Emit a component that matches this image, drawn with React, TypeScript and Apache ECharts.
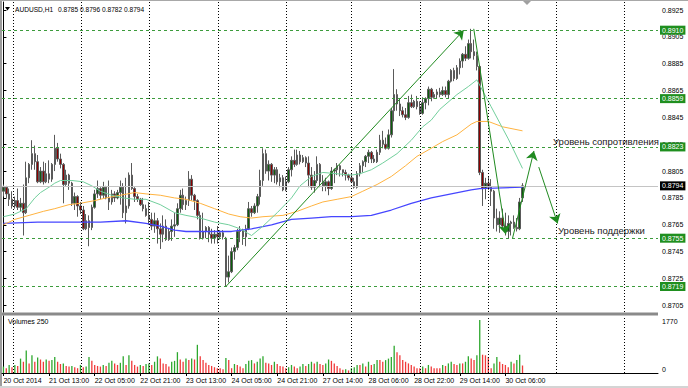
import React, { useEffect, useRef } from "react";
import * as echarts from "echarts";

const symbolTitle = "AUDUSD,H1";
const lastQuote = "0.8785 0.8796 0.8782 0.8794";
const volumesTitle = "Volumes 250";
const tickLabels = [
  "20 Oct 2014", "21 Oct 13:00", "22 Oct 05:00", "22 Oct 21:00", "23 Oct 13:00", "24 Oct 05:00",
  "24 Oct 21:00", "27 Oct 14:00", "28 Oct 06:00", "28 Oct 22:00", "29 Oct 14:00", "30 Oct 06:00",
];
const LABEL_STEP = 16;
const SLOTS = 230;

// hourly bars in pips (x 0.0001): [open, close, low, high]
const ohlcPips: number[][] = [
  [8790,8793,8786,8795],[8793,8788,8785,8794],[8788,8784,8779,8792],[8784,8779,8777,8790],[8779,8783,8777,8786],
  [8783,8778,8776,8792],[8778,8781,8775,8785],[8781,8774,8757,8795],[8774,8800,8773,8812],[8800,8810,8796,8811],
  [8810,8818,8806,8828],[8818,8812,8806,8824],[8812,8797,8796,8817],[8797,8805,8796,8808],[8805,8797,8795,8812],
  [8797,8803,8796,8811],[8803,8799,8796,8813],[8799,8810,8797,8811],[8810,8822,8805,8832],[8822,8814,8812,8826],
  [8814,8810,8807,8818],[8810,8795,8781,8811],[8795,8802,8794,8806],[8802,8796,8791,8803],[8796,8781,8779,8797],
  [8781,8786,8776,8789],[8786,8779,8771,8787],[8779,8776,8773,8782],[8776,8762,8761,8779],[8762,8768,8761,8773],
  [8768,8763,8749,8772],[8763,8778,8761,8780],[8778,8788,8777,8791],[8788,8792,8785,8798],[8792,8787,8784,8793],
  [8787,8793,8785,8797],[8793,8785,8784,8794],[8785,8782,8776,8798],[8782,8788,8780,8791],[8788,8785,8782,8790],
  [8785,8789,8784,8791],[8789,8793,8780,8798],[8793,8774,8770,8796],[8774,8779,8766,8800],[8779,8802,8777,8804],
  [8802,8792,8791,8811],[8792,8786,8782,8793],[8786,8784,8782,8788],[8784,8780,8779,8785],[8780,8777,8775,8785],
  [8777,8772,8771,8780],[8772,8769,8765,8782],[8769,8764,8761,8774],[8764,8768,8759,8774],[8768,8762,8751,8770],
  [8762,8758,8747,8766],[8758,8764,8752,8772],[8764,8754,8753,8769],[8754,8760,8753,8762],[8760,8764,8753,8769],
  [8764,8765,8756,8774],[8765,8777,8764,8781],[8777,8787,8774,8791],[8787,8780,8776,8792],[8780,8783,8776,8786],
  [8783,8799,8779,8805],[8799,8787,8783,8802],[8787,8783,8776,8788],[8783,8772,8769,8784],[8772,8755,8754,8775],
  [8755,8760,8754,8774],[8760,8763,8755,8764],[8763,8758,8752,8764],[8758,8755,8751,8762],[8755,8758,8751,8761],
  [8758,8756,8751,8764],[8756,8759,8754,8761],[8756,8759,8754,8761],[8755,8726,8719,8756],[8726,8730,8722,8742],
  [8730,8745,8729,8748],[8745,8748,8739,8750],[8748,8760,8746,8762],[8760,8761,8752,8764],[8761,8756,8750,8762],
  [8756,8762,8749,8765],[8762,8777,8761,8782],[8777,8774,8771,8779],[8774,8779,8773,8781],[8779,8786,8774,8788],
  [8786,8798,8780,8806],[8798,8818,8794,8822],[8818,8805,8803,8821],[8805,8810,8798,8813],[8810,8802,8797,8811],
  [8802,8806,8796,8808],[8806,8797,8795,8808],[8797,8800,8793,8803],[8800,8791,8790,8802],[8791,8797,8790,8801],
  [8797,8806,8796,8808],[8806,8813,8801,8816],[8813,8810,8808,8821],[8810,8817,8809,8821],[8817,8812,8810,8820],
  [8812,8815,8811,8817],[8815,8811,8808,8816],[8811,8802,8793,8816],[8802,8793,8791,8808],[8793,8798,8789,8805],
  [8798,8810,8796,8816],[8810,8797,8793,8811],[8797,8794,8790,8802],[8794,8797,8790,8800],[8797,8792,8787,8798],
  [8792,8805,8791,8808],[8805,8806,8796,8807],[8806,8809,8802,8811],[8809,8806,8801,8810],[8806,8804,8801,8806],
  [8804,8802,8798,8806],[8802,8800,8798,8803],[8800,8797,8796,8803],[8797,8793,8792,8800],[8793,8803,8792,8805],
  [8803,8809,8801,8811],[8809,8812,8804,8813],[8812,8816,8808,8817],[8816,8819,8811,8821],[8819,8814,8811,8820],
  [8814,8812,8811,8817],[8812,8819,8811,8821],[8819,8828,8817,8832],[8828,8825,8822,8835],[8825,8822,8821,8830],
  [8822,8832,8821,8836],[8832,8850,8830,8852],[8850,8862,8842,8881],[8862,8855,8850,8866],[8855,8850,8846,8858],
  [8850,8847,8845,8853],[8847,8845,8843,8852],[8845,8856,8844,8861],[8856,8853,8852,8862],[8853,8857,8852,8858],
  [8857,8853,8851,8861],[8853,8848,8847,8857],[8848,8856,8847,8860],[8856,8859,8851,8860],[8859,8866,8854,8868],
  [8866,8860,8857,8867],[8860,8862,8859,8864],[8862,8864,8859,8866],[8864,8862,8860,8867],[8862,8865,8861,8868],
  [8865,8862,8860,8868],[8862,8872,8859,8873],[8872,8880,8871,8881],[8880,8874,8872,8882],[8874,8882,8873,8884],
  [8882,8887,8877,8889],[8887,8892,8882,8893],[8892,8889,8887,8898],[8889,8900,8888,8903],[8900,8894,8889,8911],
  [8894,8891,8888,8903],[8891,8883,8880,8894],[8883,8804,8802,8884],[8804,8792,8779,8806],[8792,8796,8784,8800],
  [8796,8793,8791,8801],[8793,8790,8779,8799],[8790,8770,8762,8791],[8770,8765,8760,8777],[8765,8770,8759,8775],
  [8770,8764,8762,8777],[8764,8760,8757,8774],[8760,8766,8755,8772],[8766,8767,8757,8768],[8767,8763,8762,8772],
  [8763,8762,8760,8770],[8762,8782,8761,8785],[8785,8794,8782,8796],
];

const volumes: number[] = [
  214,160,268,193,268,235,480,375,750,320,590,375,515,450,375,450,405,430,535,375,
  300,320,235,214,235,193,160,268,193,214,535,405,268,235,214,268,235,340,405,320,
  268,340,555,268,590,405,268,214,268,235,300,320,268,375,555,480,320,300,214,375,
  405,695,450,375,480,430,480,450,940,555,430,340,268,235,193,160,160,128,500,430,
  160,300,268,214,160,300,405,430,320,375,480,555,340,320,268,375,300,235,214,160,
  193,268,214,160,214,300,235,300,375,320,375,300,268,320,450,405,320,235,160,107,
  128,86,160,193,268,268,320,214,375,268,300,430,430,375,430,480,535,910,695,590,
  430,375,320,268,214,160,160,214,160,268,214,160,160,160,268,235,320,375,300,268,
  320,320,375,555,480,430,590,1770,610,590,535,160,320,535,375,300,268,193,375,320,
  430,610,250,
];

// moving averages: [bar, pips]
const maFastPips: number[][] = [
  [0,8771],[4,8773],[8,8777],[11,8785],[13,8789],[16,8793],[18,8796],[20,8798],[24,8798],[28,8797],
  [31,8794],[34,8790],[38,8787],[42,8785],[46,8784],[50,8784],[55,8780],[60,8774],[64,8772],[69,8770],
  [74,8767],[79,8765],[83,8762],[87,8757],[91,8764],[96,8774],[101,8785],[104,8794],[108,8801],[112,8804],
  [117,8803],[122,8802],[125,8803],[129,8806],[133,8811],[138,8818],[143,8828],[147,8838],[150,8843],[153,8851],
  [159,8862],[163,8868],[166,8873],[171,8853],[177,8829],[182,8807],
];
const maMidPips: number[][] = [
  [0,8765],[4,8769],[9,8772],[14,8775],[18,8777],[23,8780],[27,8781],[32,8783],[36,8785],[41,8787],
  [46,8789],[50,8788],[55,8787],[60,8785],[64,8784],[69,8781],[74,8777],[79,8773],[83,8771],[87,8770],
  [91,8771],[98,8772],[103,8775],[108,8779],[112,8782],[117,8784],[122,8786],[126,8790],[131,8795],[136,8801],
  [141,8809],[145,8816],[150,8822],[154,8827],[159,8832],[164,8840],[166,8842],[170,8842],[175,8838],[182,8835],
];
const maSlowPips: number[][] = [
  [0,8766],[12,8767],[23,8767],[34,8767],[43,8768],[50,8766],[55,8764],[60,8761],[64,8760],[74,8760],
  [80,8760],[87,8762],[94,8765],[101,8769],[108,8770],[115,8771],[122,8771],[129,8772],[136,8776],[143,8781],
  [150,8785],[157,8788],[164,8791],[167,8792],[182,8793],
];

const levels = [0.891, 0.8859, 0.8823, 0.8755, 0.8719];
const lastPrice = 0.8794;
const priceTicks = [0.8705, 0.8725, 0.8745, 0.8765, 0.8785, 0.8805, 0.8825, 0.8845, 0.8865, 0.8885, 0.8905, 0.8925];
const volumeTicks = [0, 1770];
const gridBars = [3.3, 27.4, 51.2, 75.4, 99.2, 122.1, 146, 170.1, 193.9, 217.7];

// drawn trend arrows: [[bar, price], [bar, price]]
const arrows: number[][][] = [
  [[78, 0.8719], [161.4, 0.891]],
  [[164.9, 0.8911], [176.1, 0.8758]],
  [[178.5, 0.8755], [186, 0.882]],
  [[187.7, 0.8808], [194.3, 0.8766]],
];
const resistanceText = "Уровень сопротивления";
const supportText = "Уровень поддержки";

const FONT = "Liberation Sans";
const GREEN_LVL = "#3c9b3c";
const ARROW = "#1f8a1f";

export default function App() {
  const ref = useRef<HTMLDivElement>(null);
  useEffect(() => {
    const el = ref.current;
    if (!el) return;
    const chart = echarts.init(el, null, { renderer: "svg" });
    const cats = Array.from({ length: SLOTS }, (_, i) => String(i));
    const candle = ohlcPips.map((r) => r.map((v) => v / 10000));
    const volData = volumes.map((v, i) => ({
      value: v,
      itemStyle: { color: i > 0 && v <= volumes[i - 1] ? "#f03a3a" : "#2ea82e" },
    }));
    const toLine = (arr: number[][]) => arr.map(([i, p]) => [i, p / 10000]);
    const isLabel = (i: number) => i % LABEL_STEP === 0 && i / LABEL_STEP < tickLabels.length;
    const vGrid = {
      silent: true,
      symbol: "none",
      label: { show: false },
      lineStyle: { color: "#000", type: [1, 2], width: 1 },
      data: gridBars.map((b) => ({ xAxis: b })),
    };
    const lvlLabel = (bg: string) => ({
      show: true,
      position: "end",
      distance: 2,
      formatter: (p: any) => Number(p.value).toFixed(4),
      backgroundColor: bg,
      color: "#fff",
      fontSize: 7,
      fontFamily: FONT,
      padding: [1, 2, 1, 2],
    });
    const option: any = {
      animation: false,
      backgroundColor: "#fff",
      grid: [
        { left: 2, right: 30, top: 2, height: 310 },
        { left: 2, right: 30, top: 316, height: 57 },
      ],
      xAxis: [
        {
          type: "category", gridIndex: 0, data: cats, boundaryGap: true,
          axisLine: { show: false }, axisTick: { show: false }, axisLabel: { show: false }, splitLine: { show: false },
        },
        {
          type: "category", gridIndex: 1, data: cats, boundaryGap: true,
          axisLine: { show: true, lineStyle: { color: "#000", width: 1 } },
          axisTick: { show: true, interval: (i: number) => isLabel(i), alignWithLabel: true, length: 3, lineStyle: { color: "#000" } },
          axisLabel: {
            show: true, interval: (i: number) => isLabel(i),
            formatter: (v: string) => { const i = Number(v); return isLabel(i) ? tickLabels[i / LABEL_STEP] : ""; },
            align: "left", fontSize: 7, fontFamily: FONT, color: "#000", margin: 4,
          },
          splitLine: { show: false },
        },
        { type: "value", gridIndex: 0, min: -0.5, max: SLOTS - 0.5, show: false },
        { type: "value", gridIndex: 1, min: -0.5, max: SLOTS - 0.5, show: false },
      ],
      yAxis: [
        {
          type: "value", gridIndex: 0, position: "right", min: 0.87, max: 0.8931,
          axisLine: { show: true, lineStyle: { color: "#000" } },
          axisTick: { show: true, customValues: priceTicks, length: 3, lineStyle: { color: "#000" } },
          axisLabel: { customValues: priceTicks, formatter: (v: number) => v.toFixed(4), fontSize: 7, fontFamily: FONT, color: "#000", margin: 4 },
          splitLine: { show: false },
        },
        {
          type: "value", gridIndex: 1, position: "right", min: 0, max: 1901,
          axisLine: { show: true, lineStyle: { color: "#000" } },
          axisTick: { show: false },
          axisLabel: {
            customValues: volumeTicks,
            formatter: (v: number) => (v === 0 ? "{b|0}" : "{t|" + v + "}"),
            rich: {
              b: { padding: [0, 0, 8, 0], fontSize: 7, fontFamily: FONT, color: "#000" },
              t: { padding: [4, 0, 0, 0], fontSize: 7, fontFamily: FONT, color: "#000" },
            },
            fontSize: 7, fontFamily: FONT, color: "#000", margin: 4,
          },
          splitLine: { show: false },
        },
      ],
      series: [
        {
          type: "line", xAxisIndex: 2, yAxisIndex: 0, data: [[0, 0.8]], showSymbol: false, z: 1,
          lineStyle: { opacity: 0 }, markLine: vGrid,
        },
        {
          type: "line", xAxisIndex: 3, yAxisIndex: 1, data: [[0, -10]], showSymbol: false, z: 1,
          lineStyle: { opacity: 0 }, markLine: vGrid,
        },
        {
          type: "candlestick", xAxisIndex: 0, yAxisIndex: 0, data: candle, barWidth: 2, z: 3,
          itemStyle: { color: "#0b5e0b", color0: "#8b0000", borderColor: "#5a5a5a", borderColor0: "#5a5a5a", borderWidth: 1 },
          markLine: {
            silent: true, symbol: "none", precision: 4,
            data: [
              ...levels.map((v) => ({ yAxis: v, lineStyle: { color: GREEN_LVL, type: [3, 3], width: 1 }, label: lvlLabel("#1f8f1f") })),
              { yAxis: lastPrice, lineStyle: { color: "#c4c4c4", type: "solid", width: 1 }, label: lvlLabel("#000") },
            ],
          },
        },
        {
          type: "bar", xAxisIndex: 1, yAxisIndex: 1, data: volData, barWidth: 1.3,
        },
        {
          type: "line", xAxisIndex: 2, yAxisIndex: 0, data: toLine(maSlowPips), showSymbol: false, z: 4,
          lineStyle: { color: "#4646ff", width: 1.3 },
        },
        {
          type: "line", xAxisIndex: 2, yAxisIndex: 0, data: toLine(maMidPips), showSymbol: false, z: 4,
          lineStyle: { color: "#ffb340", width: 1 },
        },
        {
          type: "line", xAxisIndex: 2, yAxisIndex: 0, data: toLine(maFastPips), showSymbol: false, z: 4,
          lineStyle: { color: "#72cf9c", width: 1 },
          markLine: {
            silent: true, symbol: ["none", "arrow"], symbolSize: 9, precision: 4,
            label: { show: false },
            lineStyle: { color: ARROW, type: "solid", width: 1 },
            data: arrows.map(([a, b]) => [{ coord: a }, { coord: b }]),
          },
        },
      ],
      graphic: [
        { type: "rect", shape: { x: 0, y: 0, width: 2, height: 388 }, style: { fill: "#9c9c9c" } },
        { type: "rect", shape: { x: 0, y: 0, width: 688, height: 1 }, style: { fill: "#a8a8a8" } },
        { type: "rect", shape: { x: 2, y: 312.5, width: 656, height: 3 }, style: { fill: "#8a8a8a" } },
        { type: "rect", shape: { x: 0, y: 386, width: 688, height: 2 }, style: { fill: "#d4d4d4" } },
        { type: "polygon", shape: { points: [[5, 7], [10, 7], [7.5, 10.5]] }, style: { fill: "#000" } },
        { type: "polygon", shape: { points: [[523, 1], [531, 1], [527, 5]] }, style: { fill: "#a0a0a0" } },
        { type: "text", x: 15, y: 9, style: { text: symbolTitle, fontSize: 6.6, fontFamily: FONT, fill: "#000", verticalAlign: "middle" } },
        { type: "text", x: 58, y: 9, style: { text: lastQuote, fontSize: 6.6, fontFamily: FONT, fill: "#000", verticalAlign: "middle" } },
        { type: "text", x: 8, y: 321, style: { text: volumesTitle, fontSize: 7, fontFamily: FONT, fill: "#000", verticalAlign: "middle" } },
        { type: "text", x: 553, y: 141, style: { text: resistanceText, fontSize: 9.5, fontFamily: FONT, fill: "#202020", verticalAlign: "middle" } },
        { type: "text", x: 558, y: 230, style: { text: supportText, fontSize: 9.5, fontFamily: FONT, fill: "#202020", verticalAlign: "middle" } },
      ],
    };
    chart.setOption(option);
    return () => chart.dispose();
  }, []);
  return <div ref={ref} style={{ width: 688, height: 388, position: "absolute", left: 0, top: 0 }} />;
}
